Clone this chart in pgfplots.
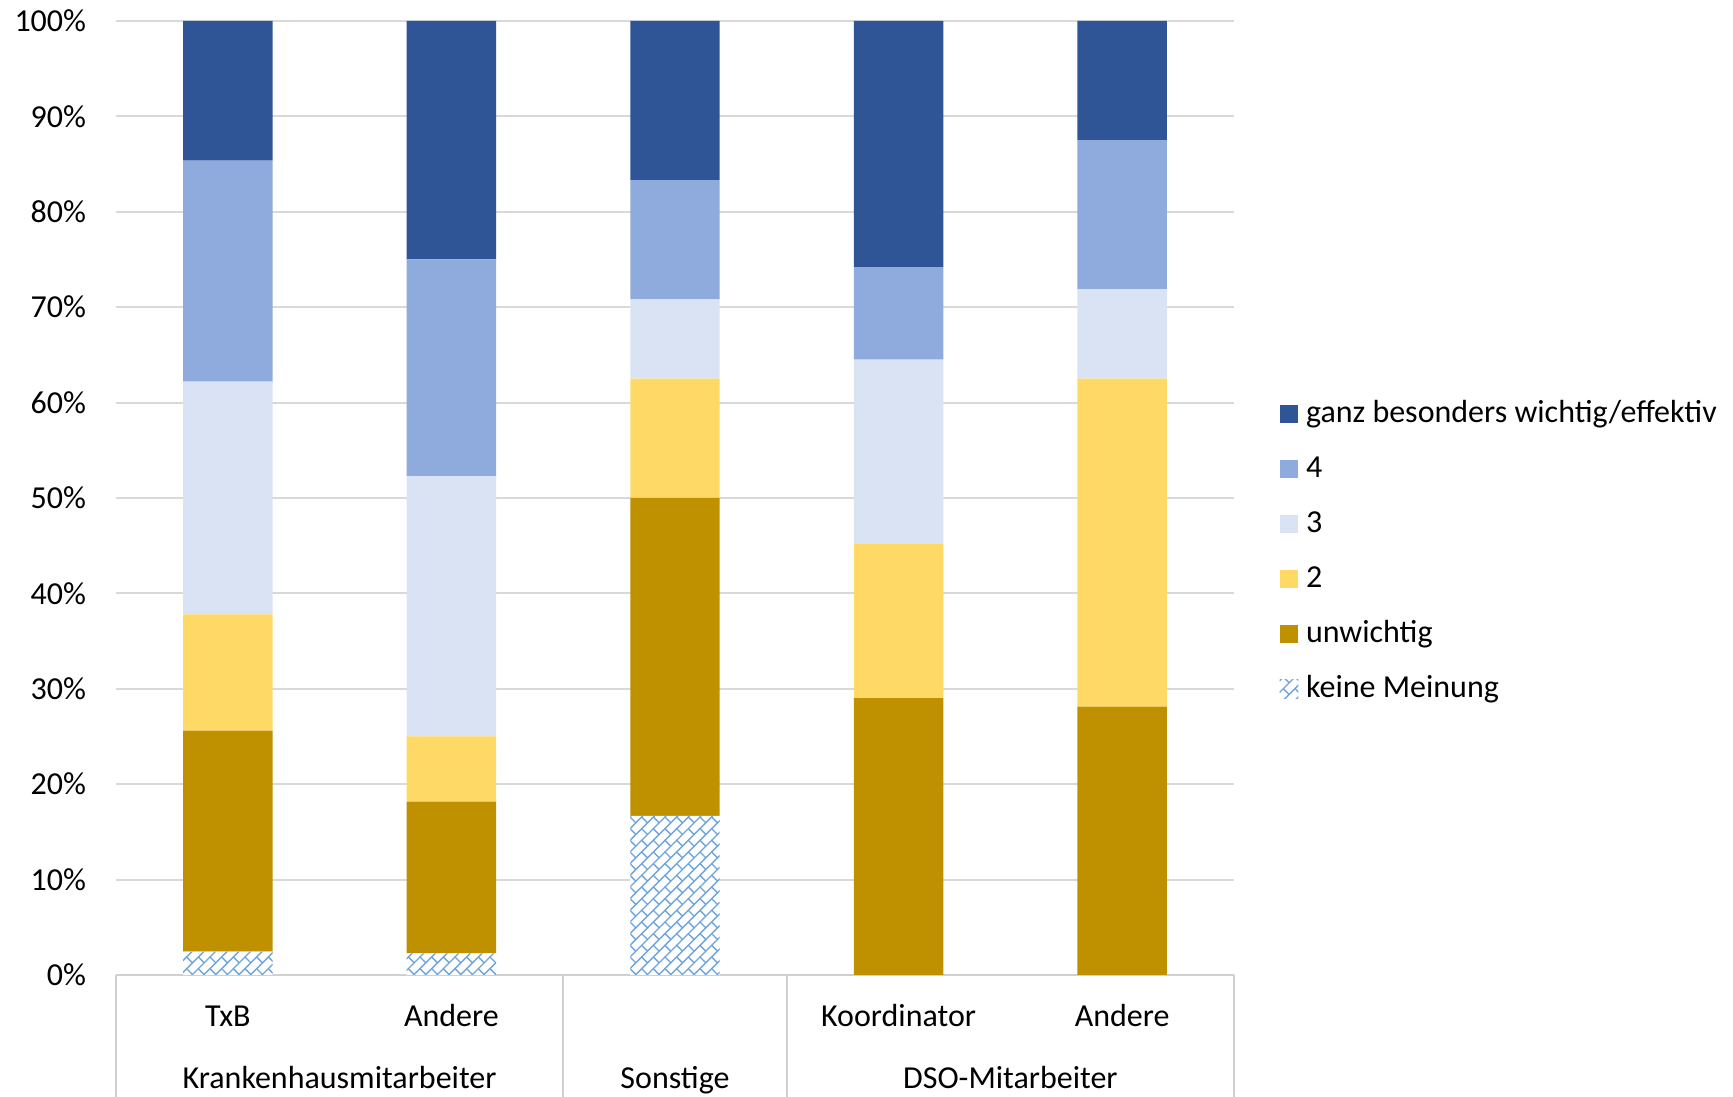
\documentclass[border=0pt]{standalone}
\usepackage{pgfplots}
\pgfplotsset{compat=1.18}
\usepackage{pgfplotstable}
\usepackage{fontspec}
\setmainfont{Carlito}
\usetikzlibrary{patterns.meta}
\definecolor{cGanz}{RGB}{47,85,151}
\definecolor{cVier}{RGB}{143,170,220}
\definecolor{cDrei}{RGB}{218,227,243}
\definecolor{cZwei}{RGB}{255,217,102}
\definecolor{cUnw}{RGB}{191,144,0}
\definecolor{cHatch}{RGB}{110,165,222}
\definecolor{cLine}{RGB}{208,208,208}
\definecolor{cGrid}{RGB}{217,217,217}
\pgfdeclarepattern{
  name=brick,
  type=uncolored,
  bottom left={\pgfpoint{-0.1pt}{-0.1pt}},
  top right={\pgfpoint{3.6pt}{3.6pt}},
  tile size={\pgfpoint{3.5pt}{3.5pt}},
  code={
    \pgfsetlinewidth{0.4pt}
    \pgfpathmoveto{\pgfpoint{-0.1pt}{-0.1pt}}
    \pgfpathlineto{\pgfpoint{3.6pt}{3.6pt}}
    \pgfpathmoveto{\pgfpoint{0pt}{3.5pt}}
    \pgfpathlineto{\pgfpoint{1.75pt}{1.75pt}}
    \pgfusepath{stroke}
  }
}
\pgfplotstableread{
x keine unw zwei drei vier ganz
0 2.44 23.17 12.20 24.39 23.17 14.63
1 2.27 15.91 6.82 27.27 22.73 25.00
2 16.67 33.33 12.50 8.33 12.50 16.67
3 0 29.03 16.13 19.35 9.68 25.81
4 0 28.13 34.38 9.38 15.63 12.50
}\data
\begin{document}
\begin{tikzpicture}
\useasboundingbox (-34.8pt,-36.6pt) rectangle (485.1pt,292.5pt);
\begin{axis}[
  at={(0,0)}, anchor=south west,
  scale only axis,
  width=335.4pt, height=286.2pt,
  ybar stacked,
  bar width=0.4,
  xmin=-0.5, xmax=4.5,
  ymin=0, ymax=100,
  clip=false,
  axis x line=bottom, axis y line=left,
  axis line style={-},
  x axis line style={draw=cLine, line width=0.6pt},
  y axis line style={draw=none},
  tick style={draw=none},
  ymajorgrids,
  grid style={draw=cGrid, line width=0.6pt},
  ytick={0,10,...,100},
  yticklabel={\pgfmathprintnumber{\tick}\%},
  /pgf/number format/assume math mode=true,
  yticklabel style={inner sep=0pt, anchor=east, xshift=-6.65pt, font=\fontsize{9.6}{11}\selectfont},
  xtick={0,1,2,3,4},
  xticklabels={TxB,Andere,{},Koordinator,Andere},
  xticklabel style={inner sep=0pt, anchor=base, yshift=-13.4pt, font=\fontsize{9.6}{11}\selectfont},
  reverse legend,
  legend image code/.code={\fill[#1] (0pt,-0.4pt) rectangle (5.6pt,5.2pt);},
  legend style={at={(1.0403,0.4441)}, anchor=west, draw=none, fill=none, inner sep=0pt,
    font=\fontsize{9.6}{11}\selectfont,
    nodes={inner sep=0pt, text height=7pt, text depth=2pt, anchor=base west},
    row sep=7.5pt,
    /tikz/every odd column/.append style={column sep=2.3pt}},
  legend cell align=left,
]
\addplot[fill=white, draw=none, postaction={pattern={brick}, pattern color=cHatch}] table[x=x,y=keine]{\data};
\addplot[fill=cUnw, draw=none] table[x=x,y=unw]{\data};
\addplot[fill=cZwei, draw=none] table[x=x,y=zwei]{\data};
\addplot[fill=cDrei, draw=none] table[x=x,y=drei]{\data};
\addplot[fill=cVier, draw=none] table[x=x,y=vier]{\data};
\addplot[fill=cGanz, draw=none] table[x=x,y=ganz]{\data};
\legend{keine Meinung,unwichtig,2,3,4,ganz besonders wichtig/effektiv}
\foreach \xx in {-0.5,1.5,2.5,4.5}{
  \edef\temp{\noexpand\draw[cLine, line width=0.6pt] (axis cs:\xx,0) -- ([yshift=-40pt]axis cs:\xx,0);}
  \temp
}
\node[anchor=base, inner sep=0pt, font=\fontsize{9.6}{11}\selectfont] at ([yshift=-34.1pt]axis cs:0.5,0) {Krankenhausmitarbeiter};
\node[anchor=base, inner sep=0pt, font=\fontsize{9.6}{11}\selectfont] at ([yshift=-34.1pt]axis cs:2,0) {Sonstige};
\node[anchor=base, inner sep=0pt, font=\fontsize{9.6}{11}\selectfont] at ([yshift=-34.1pt]axis cs:3.5,0) {DSO-Mitarbeiter};
\end{axis}
\end{tikzpicture}
\end{document}
